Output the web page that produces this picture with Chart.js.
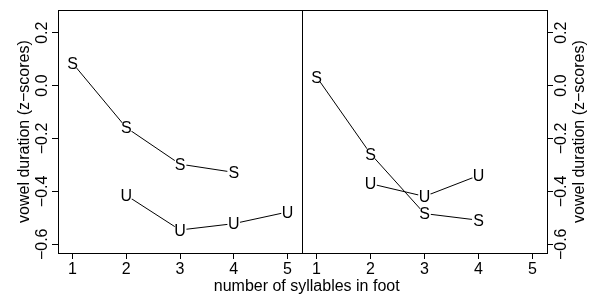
<!DOCTYPE html>
<html>
<head>
<meta charset="utf-8">
<script src="https://cdn.jsdelivr.net/npm/chart.js@4"></script>
<style>
  html, body { margin: 0; padding: 0; background: #fff; }
  #wrap { position: relative; width: 591px; height: 295px; }
  #wrap canvas { position: absolute; left: 0; top: 0; }
</style>
</head>
<body>
<div id="wrap">
  <canvas id="leftPanel" width="591" height="295"></canvas>
  <canvas id="rightPanel" width="591" height="295"></canvas>
</div>
<script>
// data
const syllables = [1, 2, 3, 4, 5];
const yTicks = [-0.6, -0.4, -0.2, 0.0, 0.2];
const yTickLabels = ['\u22120.6', '\u22120.4', '\u22120.2', '0.0', '0.2'];
const leftStressed = [0.085, -0.159, -0.297, -0.328, null];
const leftUnstressed = [null, -0.415, -0.546, -0.522, -0.478];
const rightStressed = [0.033, -0.258, -0.484, -0.509, null];
const rightUnstressed = [null, -0.371, -0.419, -0.34, null];
const xTitle = 'number of syllables in foot';
const yTitle = 'vowel duration (z\u2212scores)';

const FONT = '16px "Liberation Sans", Arial, Helvetica, sans-serif';
const CAP = 16 * 0.716;

function points(arr) {
  return syllables.map((x, i) => ({ x, y: arr[i] })).filter(p => p.y !== null);
}

function series(letter, arr) {
  return {
    label: letter,
    data: points(arr),
    showLine: true,
    borderColor: '#000',
    borderWidth: 1,
    pointRadius: 0,
    fill: false
  };
}

// letters at the points, the box, rotated y labels, titles
const decor = {
  id: 'decor',
  afterDatasetsDraw(chart, args, opts) {
    const ctx = chart.ctx;
    const a = chart.chartArea;
    ctx.save();
    ctx.font = FONT;
    ctx.textAlign = 'center';
    ctx.textBaseline = 'alphabetic';

    chart.data.datasets.forEach((ds, i) => {
      chart.getDatasetMeta(i).data.forEach(pt => {
        ctx.fillStyle = '#fff';
        ctx.beginPath();
        ctx.arc(pt.x, pt.y, 6.5, 0, Math.PI * 2);
        ctx.fill();
        ctx.fillStyle = '#000';
        ctx.fillText(ds.label, pt.x, pt.y + CAP / 2);
      });
    });

    ctx.strokeStyle = '#000';
    ctx.lineWidth = 1;
    ctx.strokeRect(Math.round(a.left) + 0.5, Math.round(a.top) + 0.5,
      Math.round(a.right - a.left), Math.round(a.bottom - a.top));

    const ys = chart.scales.y;
    ctx.fillStyle = '#000';
    yTicks.forEach((v, i) => {
      ctx.save();
      ctx.translate(opts.tickX, ys.getPixelForValue(v));
      ctx.rotate(-Math.PI / 2);
      ctx.fillText(yTickLabels[i], 0, CAP / 2);
      ctx.restore();
    });

    ctx.save();
    ctx.translate(opts.titleX, (a.top + a.bottom) / 2);
    ctx.rotate(-Math.PI / 2);
    ctx.fillText(yTitle, 0, 5);
    ctx.restore();

    if (opts.xTitle) {
      ctx.fillText(xTitle, opts.xTitleX, 291);
    }
    ctx.restore();
  }
};

function xScale() {
  return {
    type: 'linear',
    min: 0.73,
    max: 5.27,
    afterBuildTicks: s => { s.ticks = syllables.map(v => ({ value: v })); },
    afterFit: s => { s.height = 42; },
    grid: { drawOnChartArea: false, drawTicks: true, tickLength: 6, color: '#000', lineWidth: 1 },
    border: { display: false },
    ticks: { color: '#000', font: { family: '"Liberation Sans", Arial, sans-serif', size: 16 }, padding: 1, maxRotation: 0, autoSkip: false }
  };
}

function yScale(pos, width) {
  return {
    type: 'linear',
    position: pos,
    min: -0.633,
    max: 0.285,
    afterBuildTicks: s => { s.ticks = yTicks.map(v => ({ value: v })); },
    afterFit: s => { s.width = width; },
    grid: { drawOnChartArea: false, drawTicks: true, tickLength: 6, color: '#000', lineWidth: 1 },
    border: { display: false },
    ticks: { callback: () => '' }
  };
}

function makeChart(id, stressed, unstressed, side) {
  const left = side === 'left';
  return new Chart(document.getElementById(id), {
    type: 'scatter',
    data: { datasets: [series('S', stressed), series('U', unstressed)] },
    options: {
      responsive: false,
      animation: false,
      layout: { padding: left ? { left: 0, top: 8, right: 289, bottom: 0 } : { left: 302, top: 8, right: 0, bottom: 0 } },
      scales: {
        x: xScale(),
        y: left ? yScale('left', 58) : yScale('right', 44)
      },
      plugins: {
        legend: { display: false },
        tooltip: { enabled: false },
        decor: left ? { tickX: 41.7, titleX: 24, xTitle: true, xTitleX: 306.7 } : { tickX: 560, titleX: 579, xTitle: false }
      }
    },
    plugins: [decor]
  });
}

makeChart('leftPanel', leftStressed, leftUnstressed, 'left');
makeChart('rightPanel', rightStressed, rightUnstressed, 'right');
</script>
</body>
</html>
